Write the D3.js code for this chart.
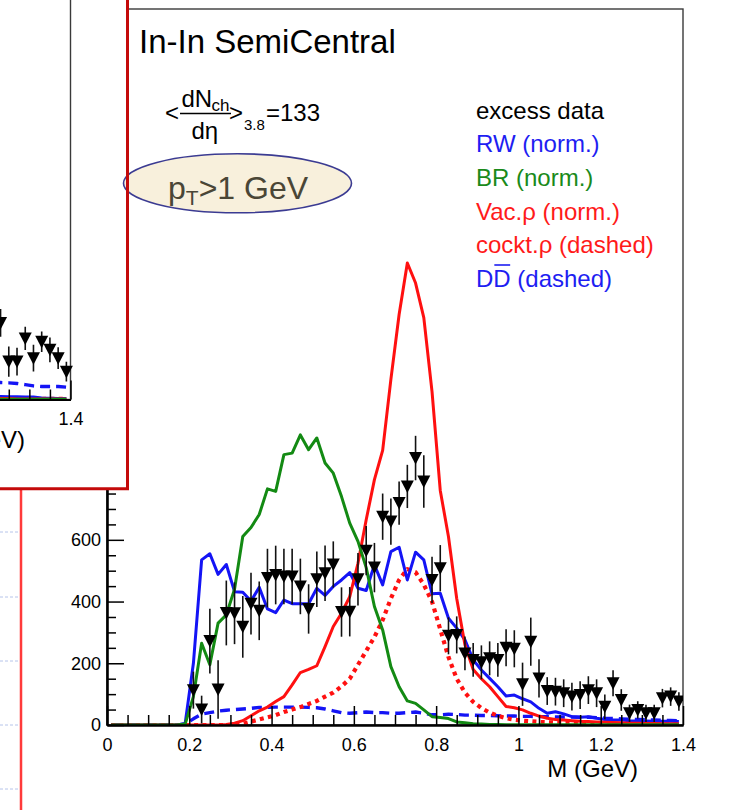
<!DOCTYPE html>
<html>
<head>
<meta charset="utf-8">
<script src="https://cdn.jsdelivr.net/npm/d3@7"></script>
<style>
  html, body { margin: 0; padding: 0; background: #fff; }
  svg { display: block; font-family: "Liberation Sans", Arial, Helvetica, sans-serif; }
</style>
</head>
<body>
<svg id="chart" width="731" height="810"></svg>
<script>
// ---- Dimuon excess, In-In semi-central, pT > 1 GeV -----------------------
// Mass bin centres (GeV), 20 MeV bins
const massBins = [
  0.01,0.03,0.05,0.07,0.09,0.11,0.13,0.15,0.17,0.19,
  0.21,0.23,0.25,0.27,0.29,0.31,0.33,0.35,0.37,0.39,
  0.41,0.43,0.45,0.47,0.49,0.51,0.53,0.55,0.57,0.59,
  0.61,0.63,0.65,0.67,0.69,0.71,0.73,0.75,0.77,0.79,
  0.81,0.83,0.85,0.87,0.89,0.91,0.93,0.95,0.97,0.99,
  1.01,1.03,1.05,1.07,1.09,1.11,1.13,1.15,1.17,1.19,
  1.21,1.23,1.25,1.27,1.29,1.31,1.33,1.35,1.37,1.39
];
// Rapp-Wambach spectral function (normalised)
const rwNorm = [
  0,0,0,0,0,0,0,0,0,5,
  200,535,555,488,520,432,430,402,446,376,
  364,405,393,393,393,443,420,449,470,494,
  443,436,519,454,562,576,470,560,535,425,
  427,346,314,276,211,178,151,124,94,97,
  85,75,54,38,43,36,27,25,27,22,
  18,16,16,14,13,13,12,12,12,11
];
// Brown-Rho scaling (normalised)
const brNorm = [
  0,0,0,0,0,0,0,0,0,3,
  92,265,195,330,357,440,611,640,682,765,
  757,876,881,940,892,930,849,816,740,654,
  595,510,384,308,189,124,78,70,49,27,
  24,21,10,7,4,3,2,2,1,1,
  1,1,1,1,1,1,1,1,1,1,
  1,1,1,1,1,1,1,1,1,1
];
// Vacuum rho (normalised)
const vacRho = [
  0,0,0,0,0,0,0,0,0,0,
  0,0,0,0,2,6,14,30,46,58,
  76,92,130,170,180,192,254,319,362,416,
  524,665,795,890,1120,1330,1497,1432,1320,1080,
  760,610,410,260,180,150,124,92,60,56,
  49,38,29,22,18,16,14,12,11,10,
  9,8,7,6,6,5,5,4,4,4
];
// Cocktail rho
const cocktailRho = [
  0,0,0,0,0,0,0,0,0,0,
  0,0,0,0,0,0,4,11,18,25,
  32,42,50,58,68,78,92,105,125,150,
  195,240,285,340,410,470,505,495,455,400,
  310,220,150,105,75,55,40,30,22,17,
  14,12,10,9,8,7,6,5,5,4,
  4,3,3,3,2,2,2,2,2,2
];
// Open charm (D Dbar)
const charmDD = [
  0,0,0,0,0,0,0,0,0,3,
  20,35,40,45,48,50,52,54,57,57,
  58,58,58,58,57,56,52,46,40,38,
  40,42,40,40,38,38,40,42,38,33,
  33,35,34,32,32,31,31,30,29,29,
  28,28,27,27,26,26,26,25,25,24,
  22,21,20,19,18,17,16,15,15,14
];

// Excess data points
const dataMass = [
  0.21,0.23,0.25,0.27,0.29,0.31,0.33,0.35,0.37,0.39,
  0.41,0.43,0.45,0.47,0.49,0.51,0.53,0.55,0.57,0.59,
  0.61,0.63,0.65,0.67,0.69,0.71,0.73,0.75,0.77,0.79,
  0.81,0.83,0.85,0.87,0.89,0.91,0.93,0.95,0.97,0.99,
  1.01,1.03,1.05,1.07,1.09,1.11,1.13,1.15,1.17,1.19,
  1.21,1.23,1.25,1.27,1.29,1.31,1.33,1.35,1.37,1.39
];
const dataExcess = [
  113,50,272,115,363,362,318,393,370,476,
  486,481,481,449,376,472,492,520,366,367,
  472,565,510,675,659,719,773,865,789,470,
  508,289,292,232,211,203,216,211,250,247,
  132,270,151,110,108,103,92,97,113,103,
  59,135,81,38,49,38,38,87,92,76
];
const dataError = [
  60,45,105,95,105,100,100,100,95,95,
  95,90,90,90,80,90,90,75,80,80,
  85,80,80,75,75,70,70,72,85,75,
  75,60,60,55,55,55,55,55,60,60,
  70,78,62,45,45,45,45,45,45,45,
  40,42,35,28,28,28,28,30,30,30
];

// Neighbouring panel (tail of its spectrum)
const insetMass   = [1.21,1.23,1.25,1.27,1.29,1.31,1.33,1.35,1.37,1.39];
const insetExcess = [150,248,123,123,198,134,187,161,134,90];
const insetError  = [45,45,49,45,38,43,33,40,35,32];
const insetRW     = [10,10,9,9,8,8,5,4,3,3];
const insetBR     = [1,1,1,1,1,1,1,1,1,1];
const insetVac    = [3,3,3,2,2,2,2,2,2,2];
const insetCockt  = [2,2,2,2,2,2,2,2,2,2];
const insetDD     = [56,55,54,52,48,44,42,42,42,40];

// Axes
const xTickValues = [0,0.2,0.4,0.6,0.8,1.0,1.2,1.4];
const xTickLabels = ["0","0.2","0.4","0.6","0.8","1","1.2","1.4"];
const yTickValues = [0,200,400,600];
const yTickLabels = ["0","200","400","600"];
const yUpperTicks = [800,1000,1200,1400,1600,1800,2000,2200];

// Legend
const legendLabels = ["excess data","RW (norm.)","BR (norm.)","Vac.\u03c1 (norm.)","cockt.\u03c1 (dashed)","DD (dashed)"];
const legendColors = ["#000000","#1e1ef2","#1a8a1a","#ff1a1a","#ff1a1a","#1e1ef2"];

// ---------------------------------------------------------------------------
const svg = d3.select("#chart");
const FONT = '"Liberation Sans", Arial, Helvetica, sans-serif';

const frame = { left: 107, right: 683, top: 9, bottom: 725 };
const x = d3.scaleLinear().domain([0, 1.4]).range([frame.left, frame.right]);
const y = d3.scaleLinear().domain([0, 2320]).range([frame.bottom, frame.top]);

const curveStyles = [
  { key: "dd",   values: charmDD,     color: "#1414f5", width: 3.4, dash: "10,6" },
  { key: "ckt",  values: cocktailRho, color: "#ff1010", width: 4.2, dash: "4,4.3" },
  { key: "rw",   values: rwNorm,      color: "#1414f5", width: 3,   dash: null },
  { key: "vac",  values: vacRho,      color: "#ff1010", width: 3,   dash: null },
  { key: "br",   values: brNorm,      color: "#138a13", width: 3,   dash: null }
];

// ---- background strip at the left edge
const bg = svg.append("g");
[532, 597, 661, 725, 789].forEach(yy => {
  bg.append("line").attr("x1", 0).attr("x2", 19).attr("y1", yy).attr("y2", yy)
    .attr("stroke", "#b6c4ea").attr("stroke-width", 1).attr("stroke-dasharray", "3,2");
});
bg.append("line").attr("x1", 21).attr("x2", 21).attr("y1", 489).attr("y2", 810)
  .attr("stroke", "#ff3a3a").attr("stroke-width", 2.5);

// ---- main panel
const main = svg.append("g");
main.append("clipPath").attr("id", "plotClip").append("rect")
  .attr("x", frame.left).attr("y", frame.top)
  .attr("width", frame.right - frame.left).attr("height", frame.bottom - frame.top);

main.append("rect")
  .attr("x", frame.left).attr("y", frame.top)
  .attr("width", frame.right - frame.left).attr("height", frame.bottom - frame.top)
  .attr("fill", "none").attr("stroke", "#3a3a3a").attr("stroke-width", 1.4);

function drawCurves(g, xs, ys, masses, styles) {
  styles.forEach(s => {
    const line = d3.line().x((d, i) => xs(masses[i])).y(d => ys(d));
    g.append("path").datum(s.values)
      .attr("d", line)
      .attr("fill", "none")
      .attr("stroke", s.color)
      .attr("stroke-width", s.width)
      .attr("stroke-linejoin", "round")
      .attr("stroke-dasharray", s.dash);
  });
}

function drawPoints(g, xs, ys, masses, vals, errs) {
  const pts = masses.map((m, i) => ({ m, v: vals[i], e: errs[i] }));
  g.selectAll("line.err").data(pts).enter().append("line")
    .attr("class", "err")
    .attr("x1", d => xs(d.m)).attr("x2", d => xs(d.m))
    .attr("y1", d => ys(d.v - d.e)).attr("y2", d => ys(d.v + d.e))
    .attr("stroke", "#111").attr("stroke-width", 1.6);
  g.selectAll("path.tri").data(pts).enter().append("path")
    .attr("class", "tri")
    .attr("d", d => {
      const cx = xs(d.m), cy = ys(d.v);
      return `M${cx - 6.5},${cy - 6}L${cx + 6.5},${cy - 6}L${cx},${cy + 6.5}Z`;
    })
    .attr("fill", "#000");
}

const plot = main.append("g").attr("clip-path", "url(#plotClip)");
drawCurves(plot, x, y, massBins, curveStyles);
drawPoints(plot, x, y, dataMass, dataExcess, dataError);

// axes
const yAxis = d3.axisLeft(y).tickValues(yTickValues)
  .tickFormat((d, i) => yTickLabels[i]).tickSizeInner(-17).tickSizeOuter(0).tickPadding(6);
const yUpper = d3.axisLeft(y).tickValues(yUpperTicks)
  .tickFormat("").tickSizeInner(-17).tickSizeOuter(0);
const yMinor = d3.axisLeft(y)
  .tickValues(d3.range(0, 47).map(i => i * 50).filter(v => v % 200 !== 0))
  .tickFormat("").tickSizeInner(-9).tickSizeOuter(0);
const xAxis = d3.axisBottom(x).tickValues(xTickValues)
  .tickFormat((d, i) => xTickLabels[i]).tickSizeInner(-19).tickSizeOuter(0).tickPadding(13);
const xMinor = d3.axisBottom(x)
  .tickValues(d3.range(0, 29).filter(i => i % 4 !== 0).map(i => i * 0.05))
  .tickFormat("").tickSizeInner(-10).tickSizeOuter(0);

function styleAxis(g) {
  g.attr("font-size", 18).attr("font-family", FONT).attr("color", "#000");
  g.selectAll("path.domain").attr("stroke-width", 1.8);
  g.selectAll(".tick line").attr("stroke-width", 1.5);
}
main.append("g").attr("transform", `translate(${frame.left},0)`).call(yMinor).call(styleAxis);
main.append("g").attr("transform", `translate(${frame.left},0)`).call(yUpper).call(styleAxis);
main.append("g").attr("transform", `translate(${frame.left},0)`).call(yAxis).call(styleAxis);
main.append("g").attr("transform", `translate(0,${frame.bottom})`).call(xMinor).call(styleAxis);
main.append("g").attr("transform", `translate(0,${frame.bottom})`).call(xAxis).call(styleAxis);

main.append("text").attr("x", 638).attr("y", 777).attr("text-anchor", "end")
  .attr("font-size", 24).attr("fill", "#000").text("M (GeV)");

// title & annotations
main.append("text").attr("x", 139).attr("y", 53).attr("font-size", 33).attr("fill", "#000")
  .text("In-In SemiCentral");

const formula = main.append("g").attr("font-size", 24).attr("fill", "#000");
formula.append("text").attr("x", 165).attr("y", 121).text("<");
formula.append("text").attr("x", 181.5).attr("y", 107).text("dN");
formula.append("text").attr("x", 211.5).attr("y", 111).attr("font-size", 17).text("ch");
formula.append("line").attr("x1", 180).attr("x2", 231).attr("y1", 113.5).attr("y2", 113.5)
  .attr("stroke", "#000").attr("stroke-width", 1.4);
formula.append("text").attr("x", 191.5).attr("y", 139).text("d\u03b7");
formula.append("text").attr("x", 229).attr("y", 121).text(">");
formula.append("text").attr("x", 244).attr("y", 130).attr("font-size", 15).text("3.8");
formula.append("text").attr("x", 266).attr("y", 121).text("=133");

// legend
const legend = main.append("g").attr("font-size", 24);
legendLabels.forEach((lab, i) => {
  const t = legend.append("text").attr("x", 476).attr("y", 118.5 + i * 33.7)
    .attr("fill", legendColors[i]).text(lab);
  if (i === legendLabels.length - 1) {
    const node = t.node();
    const x0 = node.getStartPositionOfChar(1).x;
    const x1 = node.getEndPositionOfChar(1).x;
    legend.append("line").attr("x1", x0 + 1).attr("x2", x1 - 0.5)
      .attr("y1", 118.5 + i * 33.7 - 22).attr("y2", 118.5 + i * 33.7 - 22)
      .attr("stroke", legendColors[i]).attr("stroke-width", 1.6);
  }
});

// ---- neighbouring panel overlapping the top-left corner
const inset = svg.append("g");
const insetBox = { right: 127.5, bottom: 488.7 };
inset.append("clipPath").attr("id", "insetClip").append("rect")
  .attr("x", -20).attr("y", -20).attr("width", insetBox.right + 20).attr("height", insetBox.bottom + 20);
inset.append("rect").attr("x", -20).attr("y", -20)
  .attr("width", insetBox.right + 20).attr("height", insetBox.bottom + 20).attr("fill", "#fff");

const insetFrame = { right: 70.5, bottom: 399.5 };
const xi = d3.scaleLinear().domain([0, 1.4]).range([insetFrame.right - 576, insetFrame.right]);
const yi = d3.scaleLinear().domain([0, 2320]).range([insetFrame.bottom, insetFrame.bottom - 716]);

const ig = inset.append("g").attr("clip-path", "url(#insetClip)");
ig.append("rect").attr("x", xi(0)).attr("y", yi(2320))
  .attr("width", xi(1.4) - xi(0)).attr("height", yi(0) - yi(2320))
  .attr("fill", "none").attr("stroke", "#3a3a3a").attr("stroke-width", 1.4);

const insetPlot = ig.append("g");
drawCurves(insetPlot, xi, yi, insetMass, [
  { values: insetDD,    color: "#1414f5", width: 3.4, dash: "10,6" },
  { values: insetCockt, color: "#ff1010", width: 4.2, dash: "4,4.3" },
  { values: insetRW,    color: "#1414f5", width: 3,   dash: null },
  { values: insetVac,   color: "#ff1010", width: 3,   dash: null },
  { values: insetBR,    color: "#138a13", width: 3,   dash: null }
]);
drawPoints(insetPlot, xi, yi, insetMass, insetExcess, insetError);

const xiAxis = d3.axisBottom(xi).tickValues([1.4])
  .tickFormat(() => "1.4").tickSizeInner(-19).tickSizeOuter(0).tickPadding(13);
const xiMinor = d3.axisBottom(xi)
  .tickValues([1.25, 1.3, 1.35]).tickFormat("").tickSizeInner(-10).tickSizeOuter(0);
ig.append("g").attr("transform", `translate(0,${insetFrame.bottom})`).call(xiMinor).call(styleAxis);
ig.append("g").attr("transform", `translate(0,${insetFrame.bottom})`).call(xiAxis).call(styleAxis);
ig.append("text").attr("x", 25).attr("y", 448).attr("text-anchor", "end")
  .attr("font-size", 24).attr("fill", "#000").text("M (GeV)");

// pT cut badge
const badge = svg.append("g");
badge.append("ellipse").attr("cx", 237.5).attr("cy", 183.3).attr("rx", 114).attr("ry", 29.5)
  .attr("fill", "#f8f0dc").attr("stroke", "#3b3b92").attr("stroke-width", 1.6);
const bt = badge.append("text").attr("x", 168).attr("y", 198.5)
  .attr("font-size", 32).attr("fill", "#4a4636");
bt.append("tspan").text("p");
bt.append("tspan").attr("font-size", 21).attr("dy", 6).text("T");
bt.append("tspan").attr("dy", -6).text(">1 GeV");

// panel border drawn last
inset.append("path")
  .attr("d", `M${insetBox.right},-5L${insetBox.right},${insetBox.bottom}L-5,${insetBox.bottom}`)
  .attr("fill", "none").attr("stroke", "#c40a0a").attr("stroke-width", 3);
svg.node().appendChild(inset.node().lastChild);
</script>
</body>
</html>
